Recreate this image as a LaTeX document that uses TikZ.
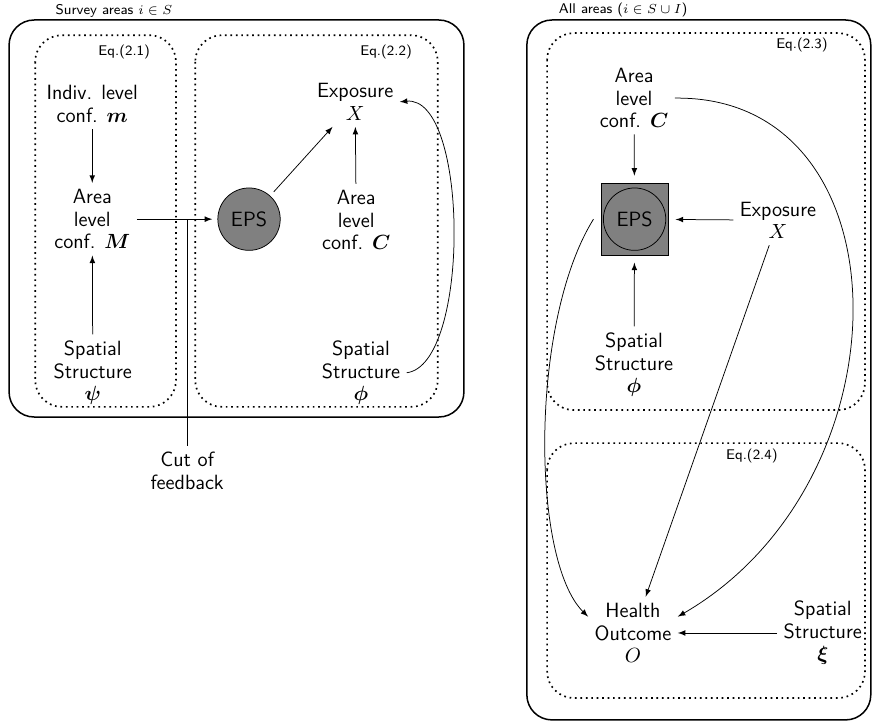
\documentclass[tikz,border=0pt]{standalone}
\usepackage{amsmath}
\usepackage{amssymb}
\usetikzlibrary{arrows}

\begin{document}
\begin{tikzpicture}[
  font=\sffamily\fontsize{11}{12}\selectfont,
  var/.style={align=center},
  eqlbl/.style={font=\sffamily\fontsize{7.5}{9}\selectfont},
  outerbox/.style={thick, rounded corners=0.47cm},
  eqbox/.style={line width=0.9pt, dotted, rounded corners=0.5cm},
  epsnode/.style={circle, draw, fill=gray, minimum size=1.17cm, inner sep=0pt, outer sep=3pt}
]
\useasboundingbox (0,0) rectangle (16.39,-13.65);
\draw[outerbox] (0.17,-0.375) rectangle (8.7,-7.82);
\draw[eqbox] (0.66,-0.66) rectangle (3.3,-7.63);
\draw[eqbox] (3.66,-0.66) rectangle (8.21,-7.63);
\node (surv) at (1.0,-0.36) [eqlbl, anchor=south west, inner sep=1pt] {Survey areas $i\in S$};
\node (eq1) at (2.33,-0.98) [eqlbl] {Eq.(2.1)};
\node (eq2) at (7.24,-0.98) [eqlbl] {Eq.(2.2)};
\node (indiv) at (1.73,-1.95) [var] {Indiv. level\\conf. $\boldsymbol{m}$};
\node (areaM) at (1.73,-4.11) [var] {Area\\level\\conf. $\boldsymbol{M}$};
\node (sppsi) at (1.74,-6.99) [var] {Spatial\\Structure\\$\boldsymbol{\psi}$};
\node (eps) at (4.67,-4.11) [epsnode] {EPS};
\node (expo) at (6.66,-1.91) [var] {Exposure\\$X$};
\node (areaC) at (6.68,-4.13) [var] {Area\\level\\conf. $\boldsymbol{C}$};
\node (spphi) at (6.77,-6.99) [var] {Spatial\\Structure\\$\boldsymbol{\phi}$};
\coordinate (cut) at (3.51,-4.11);
\node (cutlbl) at (3.51,-8.83) [var] {Cut of\\feedback};
\draw[-latex] (indiv) -- (areaM);
\draw[-latex] (sppsi) -- (areaM);
\draw[-latex] (areaM) -- (eps);
\draw[-latex] (eps) -- (expo);
\draw[-latex] (areaC) -- (expo);
\draw[-latex] (spphi.east) .. controls +(1.2,0.15) and +(1.3,0.13) .. (expo.east);
\draw (cut) -- (cutlbl);

\draw[outerbox] (9.88,-0.375) rectangle (16.33,-13.5);
\draw[eqbox] (10.26,-0.62) rectangle (16.22,-7.69);
\draw[eqbox] (10.26,-8.31) rectangle (16.22,-13.09);
\node (all) at (10.44,-0.36) [eqlbl, anchor=south west, inner sep=1pt] {All areas ($i\in S\cup I$)};
\node (eq3) at (15.04,-0.84) [eqlbl] {Eq.(2.3)};
\node (eq4) at (14.1,-8.55) [eqlbl] {Eq.(2.4)};
\node (areaC2) at (11.89,-1.84) [var] {Area\\level\\conf. $\boldsymbol{C}$};
\node (epsq) at (11.9,-4.11) [draw, fill=gray, minimum width=1.26cm, minimum height=1.35cm, outer sep=4pt] {};
\node (eps2) at (epsq) [epsnode] {EPS};
\node (expo2) at (14.59,-4.13) [var] {Exposure\\$X$};
\node (spphi2) at (11.89,-6.84) [var] {Spatial\\Structure\\$\boldsymbol{\phi}$};
\node (health) at (11.87,-11.87) [var] {Health\\Outcome\\$O$};
\node (spxi) at (15.43,-11.87) [var] {Spatial\\Structure\\$\boldsymbol{\xi}$};
\draw[-latex] (areaC2) -- (epsq);
\draw[-latex] (expo2) -- (epsq);
\draw[-latex] (spphi2) -- (epsq);
\draw[-latex] (spxi) -- (health);
\draw[-latex] (expo2) -- (health);
\draw[-latex] (areaC2.east) .. controls +(4.4,0.06) and +(4.4,2.55) .. (health.20);
\draw[-latex] (epsq.west) .. controls +(-1.2,-1.93) and +(-1.07,1.05) .. (health.160);
\end{tikzpicture}
\end{document}
